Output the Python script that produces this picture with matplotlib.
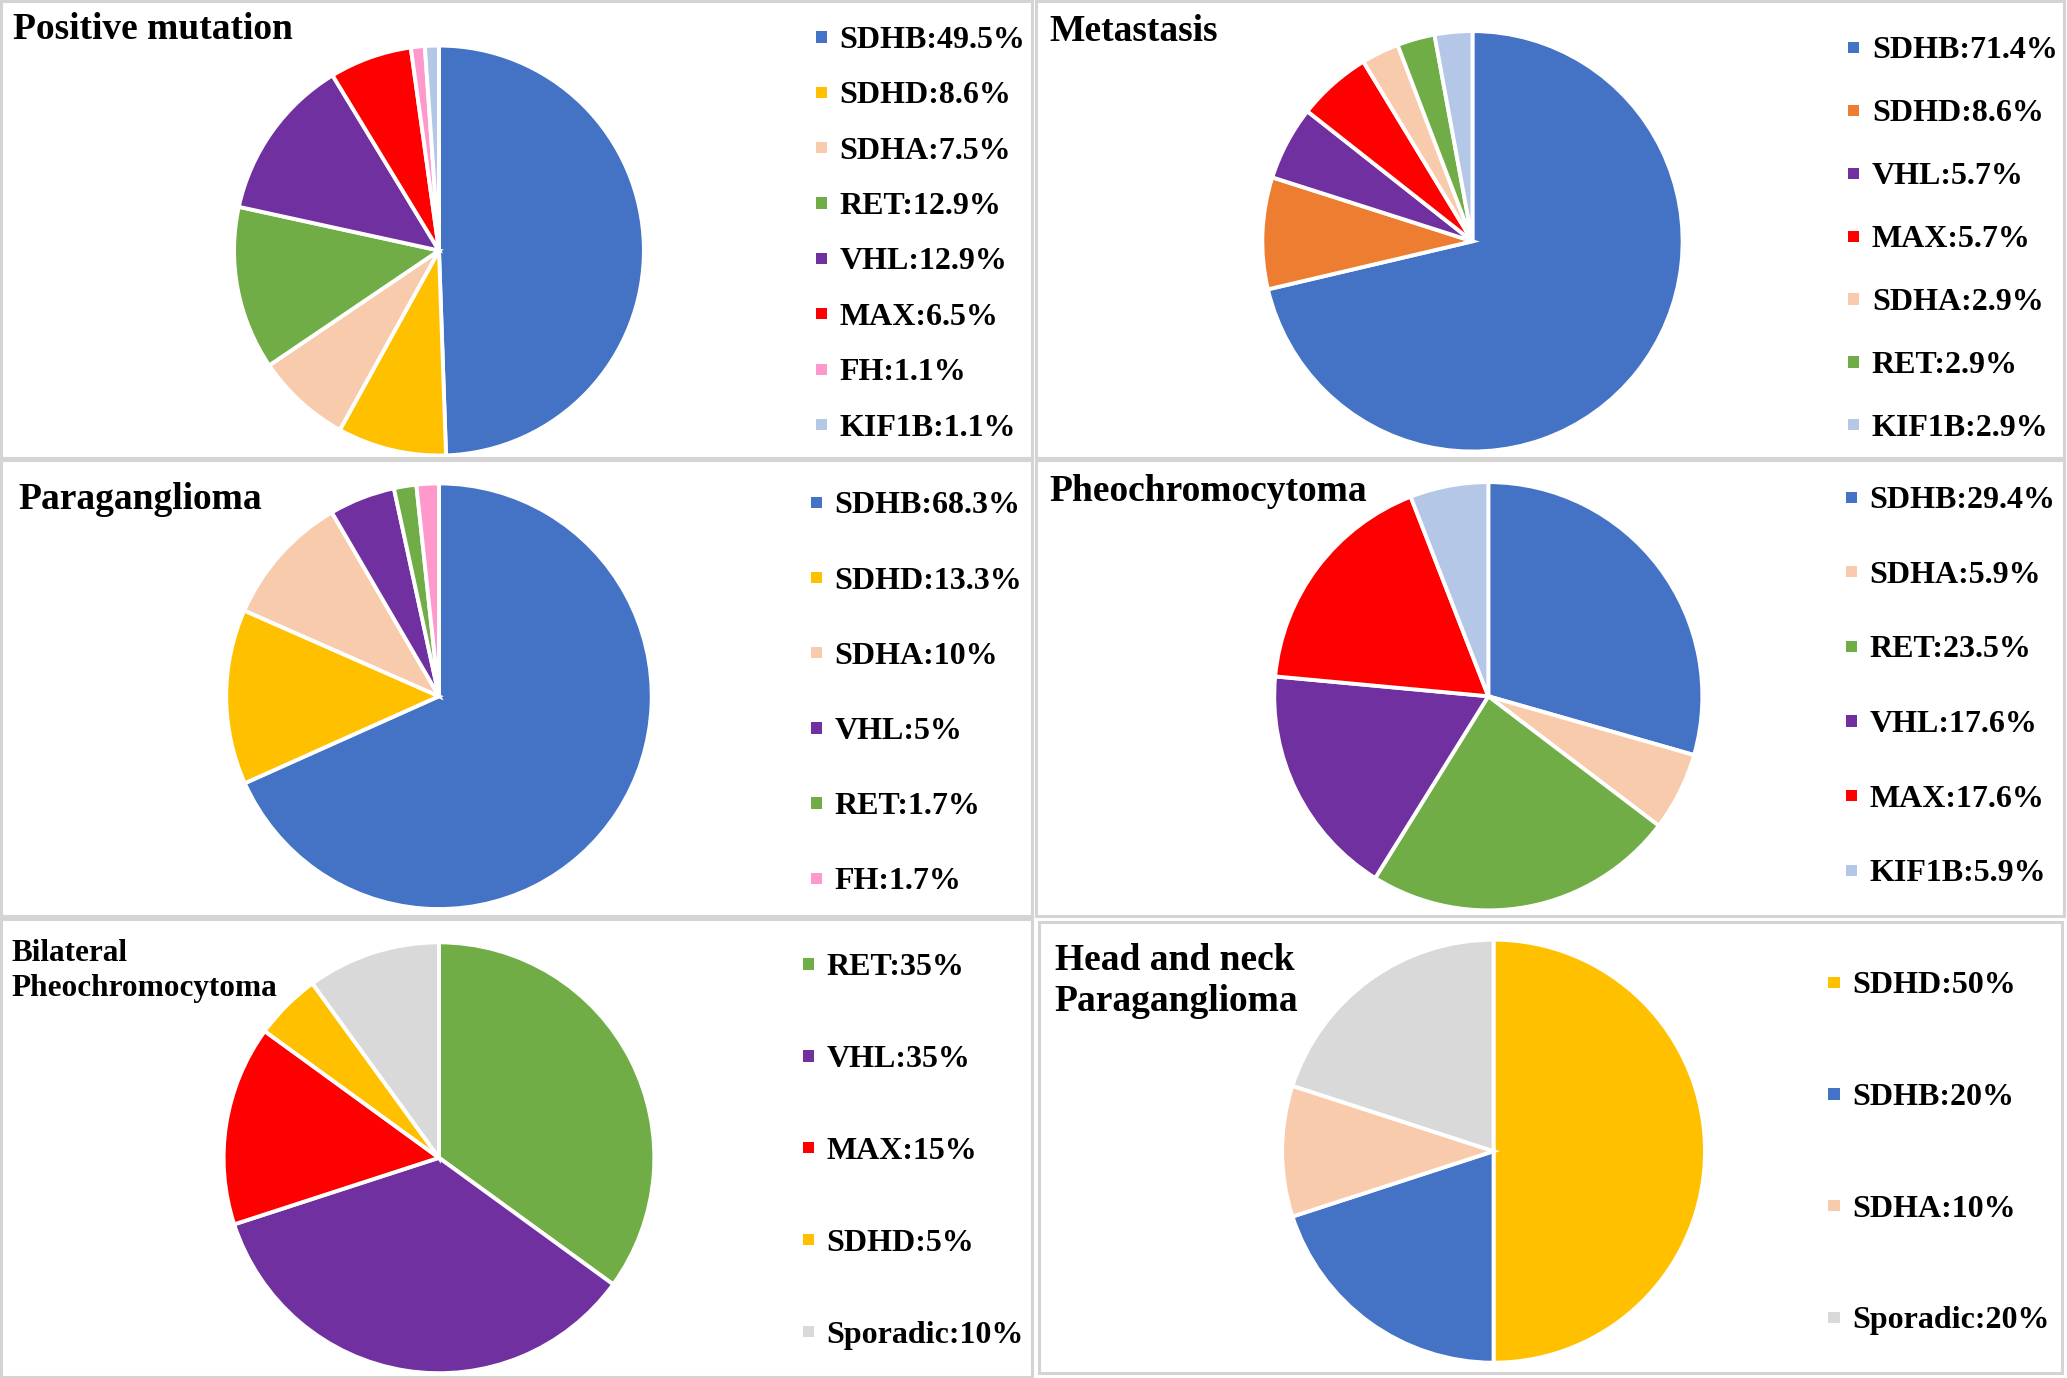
import matplotlib
matplotlib.use("Agg")
import matplotlib.pyplot as plt
from matplotlib.patches import Rectangle

plt.rcParams['font.family'] = ['Liberation Serif', 'DejaVu Serif']

# ---------------- data ----------------
COL = {
    'SDHB': '#4472C4', 'SDHD': '#FFC000', 'SDHA': '#F8CBAD', 'RET': '#70AD47',
    'VHL': '#7030A0', 'MAX': '#FF0000', 'FH': '#FF99CC', 'KIF1B': '#B4C7E7',
    'Sporadic': '#D9D9D9',
}
# the Metastasis panel draws SDHD in orange
MET_COL = dict(COL, SDHD='#ED7D31')

titles = ["Positive mutation", "Metastasis", "Paraganglioma", "Pheochromocytoma",
          "Bilateral\nPheochromocytoma", "Head and neck\nParaganglioma"]

pos_labels = ['SDHB', 'SDHD', 'SDHA', 'RET', 'VHL', 'MAX', 'FH', 'KIF1B']
pos_values = [49.5, 8.6, 7.5, 12.9, 12.9, 6.5, 1.1, 1.1]
pos_text = ['49.5%', '8.6%', '7.5%', '12.9%', '12.9%', '6.5%', '1.1%', '1.1%']

met_labels = ['SDHB', 'SDHD', 'VHL', 'MAX', 'SDHA', 'RET', 'KIF1B']
met_values = [71.4, 8.6, 5.7, 5.7, 2.9, 2.9, 2.9]
met_text = ['71.4%', '8.6%', '5.7%', '5.7%', '2.9%', '2.9%', '2.9%']

pgl_labels = ['SDHB', 'SDHD', 'SDHA', 'VHL', 'RET', 'FH']
pgl_values = [68.3, 13.3, 10, 5, 1.7, 1.7]
pgl_text = ['68.3%', '13.3%', '10%', '5%', '1.7%', '1.7%']

pcc_labels = ['SDHB', 'SDHA', 'RET', 'VHL', 'MAX', 'KIF1B']
pcc_values = [29.4, 5.9, 23.5, 17.6, 17.6, 5.9]
pcc_text = ['29.4%', '5.9%', '23.5%', '17.6%', '17.6%', '5.9%']

bil_labels = ['RET', 'VHL', 'MAX', 'SDHD', 'Sporadic']
bil_values = [35, 35, 15, 5, 10]
bil_text = ['35%', '35%', '15%', '5%', '10%']

hn_labels = ['SDHD', 'SDHB', 'SDHA', 'Sporadic']
hn_values = [50, 20, 10, 20]
hn_text = ['50%', '20%', '10%', '20%']

panels = [
    (pos_labels, pos_values, pos_text, COL),
    (met_labels, met_values, met_text, MET_COL),
    (pgl_labels, pgl_values, pgl_text, COL),
    (pcc_labels, pcc_values, pcc_text, COL),
    (bil_labels, bil_values, bil_text, COL),
    (hn_labels, hn_values, hn_text, COL),
]

# ---------------- layout (reference units 1568 x 1045) ----------------
W, H = 1568.0, 1045.0
fig = plt.figure(figsize=(20.67, 13.78), dpi=100)
fig.patch.set_facecolor('white')

def fx(x):
    return x / W

def fy(y):
    return 1 - y / H

borders = [(1, 1, 783, 347), (786, 1, 1566, 347),
           (1, 349, 783, 695), (786, 349, 1566, 695),
           (1, 697, 783, 1044), (788, 699, 1564, 1041)]
pies = [(333, 190, 157), (1117, 183, 161), (333, 528, 163),
        (1129, 528, 164), (333, 878, 165), (1133, 873, 162)]
title_pos = [(10, 22, 27), (796, 24, 27), (14, 379, 27), (796, 373, 27),
             (9, 736, 22.5), (800, 744, 27)]
title_ls = [1.0, 1.0, 1.0, 1.0, 1.27, 1.22]
legend_pos = [(637, 28, 42.0), (1420, 36, 47.7), (633, 381, 57.0),
              (1418, 377, 56.6), (627, 731, 69.75), (1405, 745, 84.7)]

for (x0, y0, x1, y1) in borders:
    fig.patches.append(Rectangle((fx(x0), fy(y1)), fx(x1) - fx(x0), fy(y0) - fy(y1),
                                 transform=fig.transFigure, fill=False,
                                 edgecolor='#D4D4D4', linewidth=2.2, zorder=0))

for i, (labels, values, texts, cmap) in enumerate(panels):
    cx, cy, r = pies[i]
    ax = fig.add_axes([fx(cx - r), fy(cy + r), 2 * r / W, 2 * r / H])
    ax.pie(values, colors=[cmap[l] for l in labels], startangle=90,
           counterclock=False, radius=1,
           wedgeprops=dict(edgecolor='white', linewidth=2.8))
    ax.set_xlim(-1.01, 1.01)
    ax.set_ylim(-1.01, 1.01)
    ax.set_aspect('auto')
    ax.axis('off')

    tx, ty, ts = title_pos[i]
    fig.text(fx(tx), fy(ty), titles[i], fontsize=ts, fontweight='bold',
             ha='left', va='center', linespacing=title_ls[i])

    lx, ly, step = legend_pos[i]
    for k, (lab, t) in enumerate(zip(labels, texts)):
        yy = ly + k * step
        s = 8.5
        fig.patches.append(Rectangle((fx(lx - 18), fy(yy + s / 2)), s / W, s / H,
                                     transform=fig.transFigure,
                                     facecolor=cmap[lab], edgecolor='none'))
        fig.text(fx(lx), fy(yy), f"{lab}:{t}", fontsize=23, fontweight='bold',
                 ha='left', va='center_baseline')

fig.savefig("out.png", dpi=100)
